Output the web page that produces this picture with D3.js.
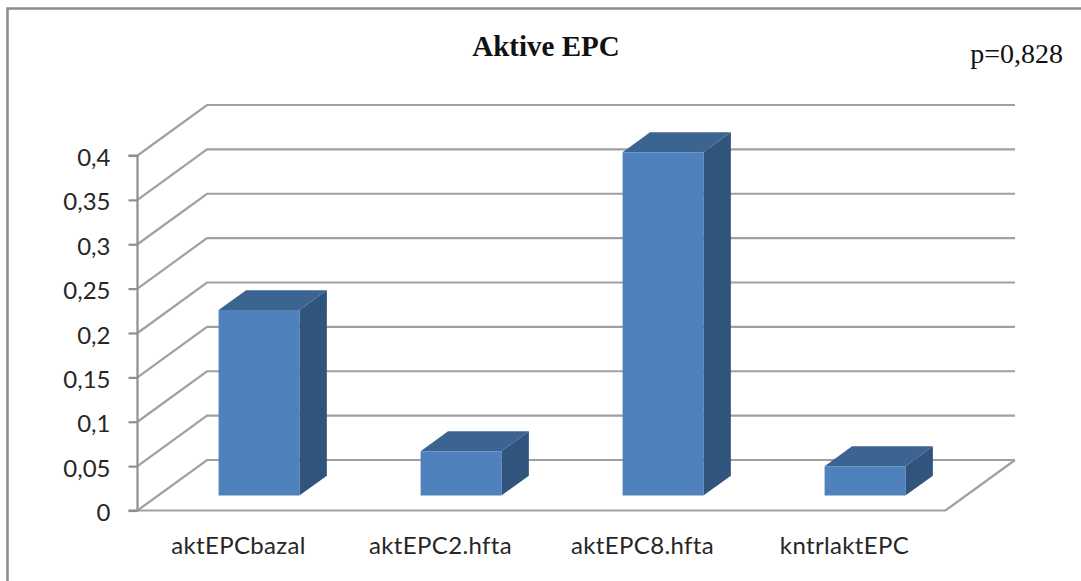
<!DOCTYPE html>
<html>
<head>
<meta charset="utf-8">
<script src="https://cdn.jsdelivr.net/npm/d3@7"></script>
<style>
  html, body { margin: 0; padding: 0; background: #fff; }
  svg { display: block; }
</style>
</head>
<body>
<svg id="chart" width="1081" height="581"></svg>
<script>
// Chart content
const chartTitle = "Aktive EPC";
const pValueNote = "p=0,828";
const categories = ["aktEPCbazal", "aktEPC2.hfta", "aktEPC8.hfta", "kntrlaktEPC"];
const values = [0.209, 0.05, 0.387, 0.033];
const tickValues = [0, 0.05, 0.1, 0.15, 0.2, 0.25, 0.3, 0.35, 0.4];

const svg = d3.select("#chart");

// Plot box of the front plane plus the oblique shift to the back wall
const front = { left: 137.5, right: 945.5, top: 155.5, bottom: 510.5 };
const depth = { dx: 69.5, dy: -50.5 };
const barDepth = { near: 0.295, far: 0.69 };

const x = d3.scaleBand().domain(categories)
  .range([front.left, front.right])
  .paddingInner(0.6).paddingOuter(0.3);
const y = d3.scaleLinear().domain([0, 0.4]).range([front.bottom, front.top]);

// Oblique projection: d = 0 is the front plane, d = 1 is the back wall
const px = (xv, d) => xv + depth.dx * d;
const py = (yv, d) => yv + depth.dy * d;
const pt = (xv, yv, d) => [px(xv, d), py(yv, d)];
const poly = pts => "M" + pts.map(p => p.join(",")).join("L") + "Z";

// Outer frame, open on the right and at the bottom
svg.append("path")
  .attr("d", "M7.5,581V8.5H1081")
  .attr("fill", "none")
  .attr("stroke", "#8c8c8c")
  .attr("stroke-width", 2.5);

// Gridlines running over the side wall and along the back wall
const gridColor = "#a0a0a0";
svg.append("g").selectAll("path")
  .data(tickValues)
  .join("path")
  .attr("fill", "none")
  .attr("stroke", gridColor)
  .attr("stroke-width", 2.2)
  .attr("d", v => {
    const a = pt(front.left, y(v), 0);
    const b = pt(front.left, y(v), 1);
    const c = pt(front.right, y(v), 1);
    return `M${a}L${b}L${c}`;
  });

// Floor edges
svg.append("path")
  .attr("fill", "none")
  .attr("stroke", gridColor)
  .attr("stroke-width", 2.2)
  .attr("d", () => {
    const a = pt(front.left, y(0), 0);
    const b = pt(front.right, y(0), 0);
    const c = pt(front.right, y(0), 1);
    return `M${a}L${b}L${c}`;
  });

// Value axis
const axis = d3.axisLeft(y)
  .tickValues(tickValues)
  .tickSize(9)
  .tickPadding(18)
  .tickFormat(v => String(v).replace(".", ","));
const axisG = svg.append("g")
  .attr("transform", `translate(${front.left},0)`)
  .call(axis);
axisG.selectAll("path, line").attr("stroke", "#8f8f8f").attr("stroke-width", 2.2);
axisG.select(".domain").attr("d", `M-9,${front.top}H0V${front.bottom}H-9`).attr("fill", "none");
axisG.selectAll("text")
  .attr("fill", "#262626")
  .attr("dy", "0.42em")
  .style("font-family", "Lato, sans-serif")
  .style("font-size", "24px");

// Three visible faces for each bar
const bars = svg.append("g").selectAll("g")
  .data(categories.map((c, i) => ({ c, v: values[i] })))
  .join("g");

const barLeft = d => x(d.c);
const barRight = d => x(d.c) + x.bandwidth();

bars.append("path")
  .attr("fill", "#31547c")
  .attr("d", d => poly([
    pt(barRight(d), y(d.v), barDepth.near),
    pt(barRight(d), y(d.v), barDepth.far),
    pt(barRight(d), y(0), barDepth.far),
    pt(barRight(d), y(0), barDepth.near)
  ]));

bars.append("path")
  .attr("fill", "#3c6491")
  .attr("d", d => poly([
    pt(barLeft(d), y(d.v), barDepth.near),
    pt(barLeft(d), y(d.v), barDepth.far),
    pt(barRight(d), y(d.v), barDepth.far),
    pt(barRight(d), y(d.v), barDepth.near)
  ]));

bars.append("path")
  .attr("fill", "#4f81bd")
  .attr("d", d => poly([
    pt(barLeft(d), y(d.v), barDepth.near),
    pt(barRight(d), y(d.v), barDepth.near),
    pt(barRight(d), y(0), barDepth.near),
    pt(barLeft(d), y(0), barDepth.near)
  ]));

// Category labels, centred on each band of the front plane
svg.append("g").selectAll("text")
  .data(categories)
  .join("text")
  .attr("x", c => x(c) + x.bandwidth() / 2)
  .attr("y", 554)
  .attr("text-anchor", "middle")
  .attr("fill", "#262626")
  .style("font-family", "Lato, sans-serif")
  .style("font-size", "24px")
  .style("letter-spacing", "0.35px")
  .text(c => c);

// Title and significance note
svg.append("text")
  .attr("x", 546).attr("y", 56)
  .attr("text-anchor", "middle")
  .attr("fill", "#111")
  .style("font-family", "'Liberation Serif', serif")
  .style("font-weight", "bold")
  .style("font-size", "29px")
  .text(chartTitle);

svg.append("text")
  .attr("x", 1063).attr("y", 63)
  .attr("text-anchor", "end")
  .attr("fill", "#111")
  .style("font-family", "'Liberation Serif', serif")
  .style("font-size", "28px")
  .text(pValueNote);
</script>
</body>
</html>
